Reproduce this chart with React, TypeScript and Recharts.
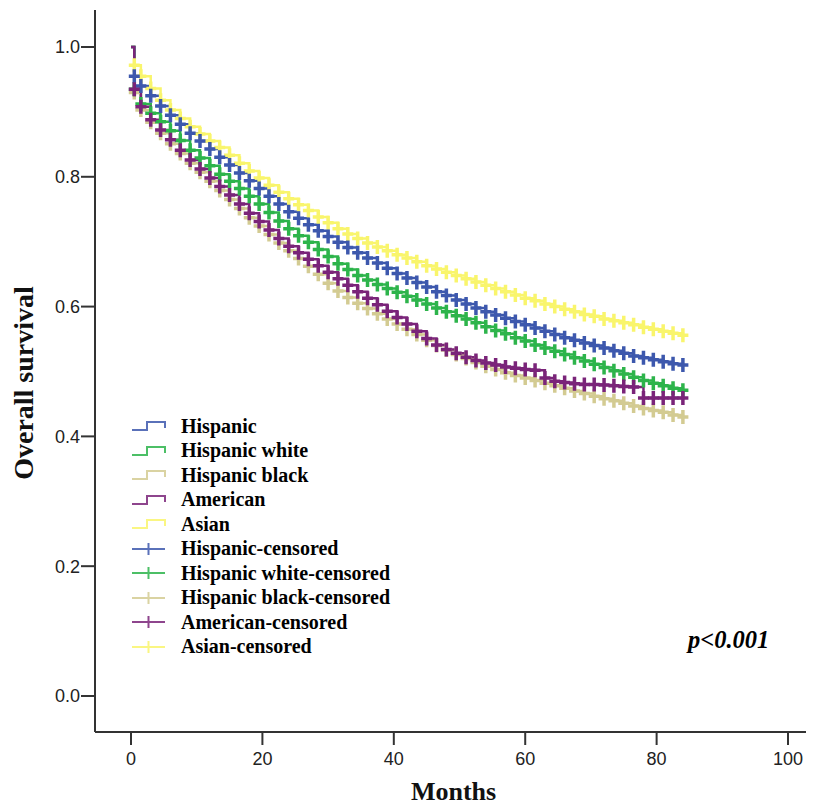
import React from 'react'
import { ComposedChart, Line, XAxis, YAxis, Legend, Label } from 'recharts'

// follow-up time (months)
const months = [0, 0.5, 1.5, 3, 4.5, 6, 7.5, 9, 10.5, 12, 13.5, 15, 16.5, 18, 19.5, 21, 22.5, 24, 25.5, 27, 28.5, 30, 31.5, 33, 34.5, 36, 37.5, 39, 40.5, 42, 43.5, 45, 46.5, 48, 49.5, 51, 52.5, 54, 55.5, 57, 58.5, 60, 61.5, 63, 64.5, 66, 67.5, 69, 70.5, 72, 73.5, 75, 76.5, 78, 79.5, 81, 82.5, 84]

const hispanic = [1.000, 0.955, 0.940, 0.925, 0.909, 0.895, 0.881, 0.867, 0.855, 0.843, 0.830, 0.818, 0.806, 0.794, 0.782, 0.770, 0.758, 0.746, 0.736, 0.726, 0.717, 0.708, 0.699, 0.691, 0.683, 0.675, 0.667, 0.659, 0.651, 0.644, 0.637, 0.630, 0.623, 0.617, 0.610, 0.604, 0.598, 0.592, 0.587, 0.582, 0.577, 0.572, 0.567, 0.562, 0.557, 0.552, 0.548, 0.544, 0.540, 0.536, 0.532, 0.528, 0.524, 0.521, 0.518, 0.515, 0.512, 0.510]
const hispanicWhite = [1.000, 0.935, 0.912, 0.898, 0.885, 0.871, 0.856, 0.841, 0.829, 0.817, 0.804, 0.793, 0.782, 0.770, 0.758, 0.745, 0.732, 0.720, 0.709, 0.699, 0.688, 0.677, 0.666, 0.657, 0.648, 0.641, 0.634, 0.628, 0.622, 0.616, 0.610, 0.604, 0.598, 0.592, 0.586, 0.581, 0.575, 0.569, 0.563, 0.558, 0.552, 0.547, 0.541, 0.536, 0.531, 0.526, 0.521, 0.516, 0.511, 0.506, 0.501, 0.496, 0.491, 0.486, 0.482, 0.478, 0.474, 0.471]
const hispanicBlack = [1.000, 0.930, 0.903, 0.884, 0.867, 0.851, 0.836, 0.821, 0.807, 0.793, 0.779, 0.765, 0.751, 0.737, 0.724, 0.711, 0.698, 0.686, 0.674, 0.662, 0.650, 0.636, 0.624, 0.614, 0.605, 0.597, 0.589, 0.581, 0.573, 0.565, 0.557, 0.548, 0.540, 0.533, 0.526, 0.520, 0.514, 0.508, 0.503, 0.498, 0.494, 0.490, 0.486, 0.482, 0.478, 0.474, 0.470, 0.466, 0.462, 0.458, 0.455, 0.451, 0.447, 0.443, 0.440, 0.437, 0.433, 0.430]
const american = [1.000, 0.935, 0.908, 0.888, 0.872, 0.857, 0.841, 0.826, 0.812, 0.798, 0.785, 0.772, 0.758, 0.744, 0.731, 0.718, 0.705, 0.693, 0.683, 0.673, 0.663, 0.653, 0.643, 0.633, 0.623, 0.613, 0.603, 0.593, 0.583, 0.573, 0.562, 0.551, 0.541, 0.534, 0.528, 0.522, 0.517, 0.513, 0.510, 0.507, 0.505, 0.503, 0.502, 0.490, 0.485, 0.483, 0.481, 0.480, 0.480, 0.479, 0.478, 0.477, 0.476, 0.459, 0.459, 0.459, 0.459, 0.459]
const asian = [1.000, 0.972, 0.955, 0.936, 0.918, 0.903, 0.890, 0.877, 0.866, 0.855, 0.845, 0.833, 0.821, 0.809, 0.798, 0.787, 0.776, 0.766, 0.757, 0.748, 0.738, 0.729, 0.720, 0.712, 0.705, 0.698, 0.692, 0.686, 0.680, 0.675, 0.669, 0.663, 0.658, 0.653, 0.648, 0.643, 0.638, 0.633, 0.628, 0.623, 0.618, 0.613, 0.609, 0.604, 0.600, 0.596, 0.592, 0.588, 0.585, 0.581, 0.578, 0.575, 0.572, 0.568, 0.565, 0.562, 0.559, 0.556]

const xTicks = [0, 20, 40, 60, 80, 100]
const yTicks = [0, 0.2, 0.4, 0.6, 0.8, 1.0]

const groups = [
  { key: 'hispanic', name: 'Hispanic', color: '#3D58AD' },
  { key: 'hispanicWhite', name: 'Hispanic white', color: '#2DB44B' },
  { key: 'hispanicBlack', name: 'Hispanic black', color: '#D3CB92' },
  { key: 'american', name: 'American', color: '#7A2479' },
  { key: 'asian', name: 'Asian', color: '#F9F56C' },
]

// drawing order (bottom to top)
const drawOrder = ['hispanicBlack', 'asian', 'hispanicWhite', 'hispanic', 'american']

const rows = months.map((m, i) => ({
  m,
  hispanic: hispanic[i],
  hispanicWhite: hispanicWhite[i],
  hispanicBlack: hispanicBlack[i],
  american: american[i],
  asian: asian[i],
}))

const serif = '"Liberation Serif", "Times New Roman", serif'
const sans = '"Liberation Sans", Arial, sans-serif'

const censorDot = (key: string, color: string) => (p: any) => {
  if (p.index === 0 || p.cx == null) return <g key={`${key}-${p.index}`} />
  return (
    <path
      key={`${key}-${p.index}`}
      d={`M${p.cx - 5.5},${p.cy}h11M${p.cx},${p.cy - 7}v14`}
      stroke={color}
      strokeWidth={3.5}
      fill="none"
    />
  )
}

const LegendBox = () => (
  <div style={{ fontFamily: serif, fontWeight: 'bold', fontSize: 20, color: '#000' }}>
    {groups.map(g => (
      <div key={g.key} style={{ display: 'flex', alignItems: 'center', height: 24.5 }}>
        <svg width={36} height={14} style={{ marginRight: 14 }}>
          <path d="M1,11H16V3H34V9" stroke={g.color} strokeWidth={2} fill="none" opacity={0.85} />
        </svg>
        <span>{g.name}</span>
      </div>
    ))}
    {groups.map(g => (
      <div key={g.key + '-c'} style={{ display: 'flex', alignItems: 'center', height: 24.5 }}>
        <svg width={36} height={14} style={{ marginRight: 14 }}>
          <path d="M1,7H34M17.5,1V13" stroke={g.color} strokeWidth={2} fill="none" opacity={0.85} />
        </svg>
        <span>{g.name}-censored</span>
      </div>
    ))}
  </div>
)

const App = () => {
  return (
    <div style={{ position: 'relative', width: 806, height: 799 }}>
      <ComposedChart width={806} height={799} data={rows} margin={{ top: 2, right: 2, left: 0, bottom: 0 }}>
        <XAxis
          dataKey="m"
          type="number"
          domain={[-5.48, 103.65]}
          allowDataOverflow
          ticks={xTicks}
          height={75}
          tickSize={13}
          tickMargin={7}
          stroke="#333"
          strokeWidth={2}
          tick={{ fontSize: 18, fill: '#222', fontFamily: sans }}
        >
          <Label
            value="Months"
            position="insideBottom"
            offset={7}
            style={{ fontFamily: serif, fontWeight: 'bold', fontSize: 26, fill: '#111' }}
          />
        </XAxis>
        <XAxis
          xAxisId="top"
          orientation="top"
          dataKey="m"
          type="number"
          domain={[-5.48, 103.65]}
          allowDataOverflow
          height={0}
          tick={false}
          tickLine={false}
          stroke="#555"
          strokeWidth={2}
        />
        <YAxis
          type="number"
          domain={[-0.0555, 1.057]}
          allowDataOverflow
          ticks={yTicks}
          width={87}
          tickSize={14}
          tickMargin={1}
          stroke="#333"
          strokeWidth={2}
          tickFormatter={(v: number) => v.toFixed(1)}
          tick={{ fontSize: 18, fill: '#222', fontFamily: sans }}
        >
          <Label
            content={(p: any) => {
              const vb = p.viewBox || { x: 0, y: 0, width: 87, height: 722 }
              const cx = vb.x + 15.5
              const cy = vb.y + vb.height / 2 + 12
              return (
                <text
                  x={cx}
                  y={cy}
                  transform={`rotate(-90, ${cx}, ${cy})`}
                  textAnchor="middle"
                  dominantBaseline="central"
                  style={{ fontFamily: serif, fontWeight: 'bold', fontSize: 28, fill: '#111' }}
                >
                  Overall survival
                </text>
              )
            }}
          />
        </YAxis>
        <YAxis
          yAxisId="right"
          orientation="right"
          type="number"
          domain={[-0.0555, 1.057]}
          allowDataOverflow
          width={0}
          tick={false}
          tickLine={false}
          stroke="#555"
          strokeWidth={2}
        />
        <Legend
          layout="vertical"
          align="center"
          verticalAlign="middle"
          content={() => <LegendBox />}
          wrapperStyle={{ left: 123, top: 406, width: 320 }}
        />
        {drawOrder.map(k => {
          const g = groups.find(x => x.key === k)!
          return (
            <Line
              key={k}
              type="stepAfter"
              dataKey={k}
              name={g.name}
              stroke={g.color}
              strokeWidth={2.5}
              dot={censorDot(k, g.color)}
              activeDot={false}
              isAnimationActive={false}
              legendType="none"
            />
          )
        })}
      </ComposedChart>
      <div
        style={{
          position: 'absolute',
          left: 680,
          top: 618,
          fontFamily: serif,
          fontWeight: 'bold',
          fontStyle: 'italic',
          fontSize: 24.5,
          color: '#000',
        }}
      >
        p&lt;0.001
      </div>
    </div>
  )
}

export default App
